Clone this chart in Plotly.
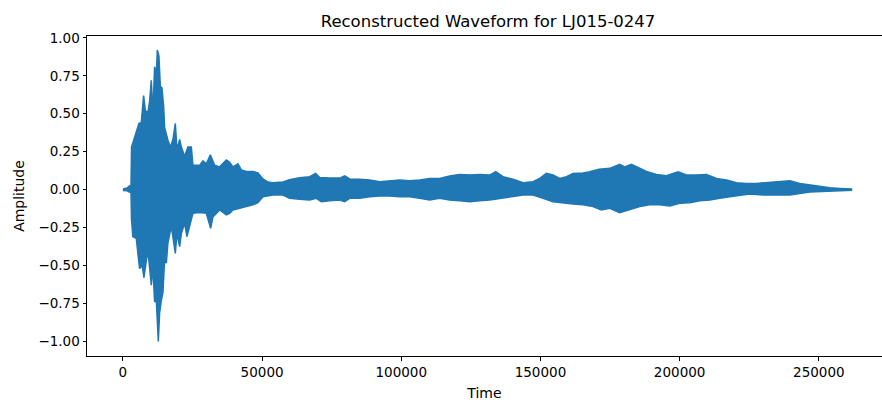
import plotly.graph_objects as go

# Envelope of the waveform (sample index, amplitude)
upper_x = [0, 1500, 2400, 2900, 3100, 3590, 4800, 5760, 6600, 7440, 8040, 8990, 9590, 10200, 10780,
           11390, 12000, 12360, 12940, 13440, 14010, 14630, 14990, 15600, 16170, 17030, 17970, 18830,
           19300, 19760, 20380, 20990, 22170, 23360, 24580, 25150, 27560, 28750, 29970, 31410, 32960,
           34750, 37160, 38340, 39530, 41330, 42540, 44340, 46720, 48510, 50310, 52110, 53900, 57500,
           59870, 63500, 67090, 69250, 70690, 74280, 77870, 79670, 81470, 85060, 88650, 92250, 95840,
           99430, 103020, 106620, 110210, 113800, 117400, 120990, 124580, 128170, 131770, 133930,
           136560, 140150, 143740, 147330, 149730, 152140, 154520, 156930, 159330, 161700, 165300,
           167700, 171050, 174890, 178480, 180280, 182690, 185670, 188080, 191670, 195270, 199440,
           202460, 206050, 209640, 213240, 216830, 220420, 224020, 227610, 231200, 234800, 239580,
           243170, 246760, 250360, 253950, 257540, 261750]
upper_y = [0.005, 0.010, 0.025, 0.012, 0.28, 0.31, 0.37, 0.436, 0.44, 0.62, 0.52, 0.51, 0.58, 0.72, 0.50,
           0.81, 0.75, 0.92, 0.88, 0.68, 0.67, 0.55, 0.41, 0.36, 0.325, 0.28, 0.33, 0.436,
           0.30, 0.28, 0.33, 0.28, 0.22, 0.28, 0.28, 0.16, 0.16, 0.19, 0.17, 0.23, 0.16,
           0.15, 0.195, 0.18, 0.15, 0.17, 0.13, 0.12, 0.12, 0.11, 0.07, 0.05, 0.045, 0.05,
           0.066, 0.078, 0.085, 0.107, 0.08, 0.076, 0.076, 0.09, 0.07, 0.068, 0.063, 0.052, 0.058,
           0.063, 0.058, 0.063, 0.074, 0.074, 0.089, 0.10, 0.096, 0.10, 0.096, 0.118,
           0.085, 0.068, 0.045, 0.052, 0.074, 0.107, 0.096, 0.074, 0.085, 0.107, 0.11,
           0.118, 0.135, 0.14, 0.166, 0.15, 0.166, 0.14, 0.12, 0.10, 0.092, 0.118,
           0.096, 0.096, 0.10, 0.074, 0.063, 0.046, 0.041, 0.041, 0.046, 0.052, 0.058,
           0.041, 0.030, 0.020, 0.012, 0.008, 0.004]

lower_x = [0, 1500, 2400, 2900, 3100, 3590, 4800, 5390, 6000, 6960, 7550, 8400, 8990, 9590, 10200,
           10780, 11390, 12000, 12720, 13190, 13800, 14370, 14990, 15600, 16170, 17390, 17970, 18830,
           19400, 20380, 20990, 22170, 23000, 23970, 25150, 27560, 29970, 31520, 32340, 34750, 37160,
           38340, 39530, 41940, 44340, 46720, 48510, 50310, 53900, 57500, 59870, 63500, 67090, 69490,
           71290, 74280, 77870, 79670, 81470, 85060, 88650, 92250, 95840, 99430, 103020, 106620,
           110210, 113800, 117400, 120990, 124580, 128170, 131770, 136560, 140150, 143740, 147330,
           150920, 154520, 158110, 161700, 165300, 168890, 171890, 174890, 178480, 182080, 185670,
           189270, 192860, 196450, 200050, 203640, 207230, 210820, 214420, 218010, 221600, 225200,
           229990, 234800, 239580, 243170, 246760, 250360, 253950, 257540, 261750]
lower_y = [-0.005, -0.008, -0.016, -0.01, -0.20, -0.31, -0.32, -0.42, -0.52, -0.50, -0.58, -0.47, -0.40,
           -0.51, -0.63, -0.51, -0.74, -0.73, -1.0, -0.81, -0.73, -0.68, -0.46, -0.485, -0.35, -0.24,
           -0.29, -0.42, -0.29, -0.375, -0.29, -0.22, -0.31, -0.24, -0.156, -0.15, -0.156, -0.255,
           -0.18, -0.134, -0.167, -0.156, -0.134, -0.123, -0.112, -0.10, -0.085, -0.047, -0.036,
           -0.036, -0.057, -0.064, -0.068, -0.057, -0.08, -0.073, -0.068, -0.08, -0.057, -0.057,
           -0.047, -0.042, -0.042, -0.047, -0.047, -0.057, -0.068, -0.057, -0.068, -0.073, -0.08,
           -0.073, -0.068, -0.057, -0.047, -0.036, -0.036, -0.057, -0.08, -0.086, -0.095, -0.10,
           -0.112, -0.134, -0.123, -0.152, -0.13, -0.112, -0.10, -0.10, -0.108, -0.09, -0.086,
           -0.073, -0.068, -0.057, -0.047, -0.036, -0.029, -0.036, -0.036, -0.036, -0.025, -0.016,
           -0.010, -0.008, -0.006, -0.004]

assert len(upper_x) == len(upper_y)
assert len(lower_x) == len(lower_y)

x_ticks = [0, 50000, 100000, 150000, 200000, 250000]
y_ticks = [-1.0, -0.75, -0.5, -0.25, 0.0, 0.25, 0.5, 0.75, 1.0]

poly_x = upper_x + lower_x[::-1]
poly_y = upper_y + lower_y[::-1]

fig = go.Figure()
fig.add_trace(go.Scatter(
    x=poly_x, y=poly_y, mode="lines", fill="toself",
    fillcolor="#1f77b4", line=dict(color="#1f77b4", width=1.5),
    hoverinfo="skip", showlegend=False,
))

font_family = "DejaVu Sans"
fig.update_layout(
    width=882, height=403,
    margin=dict(l=87, r=0, t=36, b=47),
    paper_bgcolor="white", plot_bgcolor="white",
    font=dict(family=font_family, size=13.5, color="#000"),
    title=dict(text="Reconstructed Waveform for LJ015-0247", font=dict(size=16.5, color="#000"),
               x=488 / 882, xanchor="center", xref="container",
               y=1 - 21 / 403, yanchor="middle", yref="container"),
    showlegend=False,
)
fig.update_xaxes(
    range=[-12900, 272700], tickvals=x_ticks, tickformat="d",
    showgrid=False, zeroline=False,
    showline=True, linecolor="#000", linewidth=1, mirror=True,
    ticks="outside", ticklen=3.5, tickwidth=1, tickcolor="#000",
    title=dict(text="Time", font=dict(size=14), standoff=9),
)
fig.update_yaxes(
    range=[-1.096, 1.012], tickvals=y_ticks, tickformat=".2f",
    showgrid=False, zeroline=False,
    showline=True, linecolor="#000", linewidth=1,
    ticks="outside", ticklen=3.5, tickwidth=1, tickcolor="#000",
    title=dict(text="Amplitude", font=dict(size=14), standoff=10),
)

fig.write_html("out.html")
